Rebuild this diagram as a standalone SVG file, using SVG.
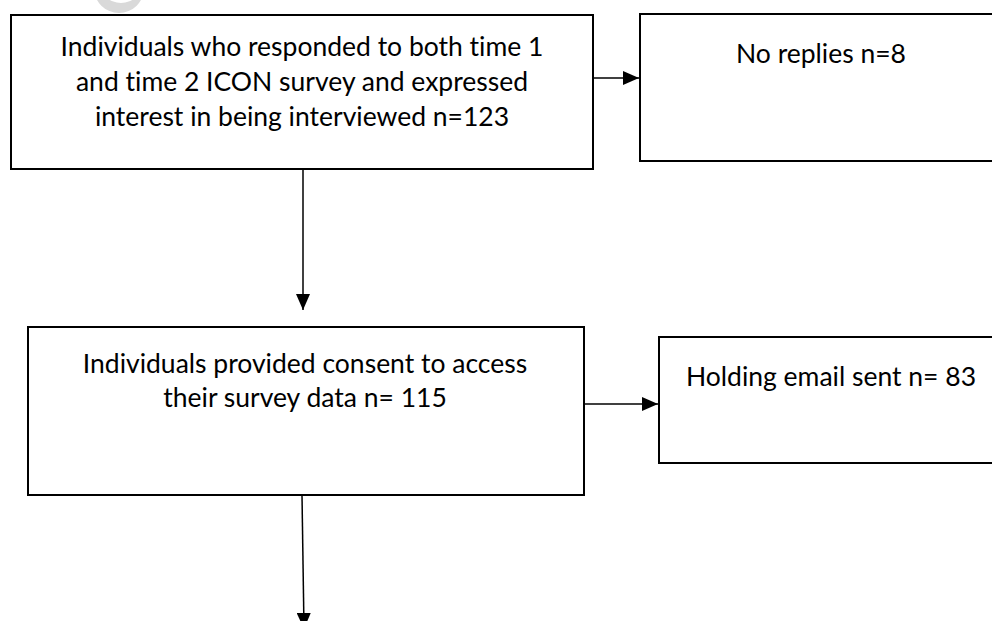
<svg xmlns="http://www.w3.org/2000/svg" width="992" height="621" viewBox="0 0 992 621">
<style>
.box{fill:#fff;stroke:#000;stroke-width:2}
.lbl{font-family:Lato,"Open Sans","Liberation Sans",sans-serif;font-size:26.5px;fill:#000;text-anchor:middle;font-variant-ligatures:none}
.con{stroke:#000;stroke-width:1.5;fill:none}
</style>
<defs>
<marker id="ah" markerUnits="userSpaceOnUse" markerWidth="16" markerHeight="14" refX="16" refY="7" orient="auto">
<path d="M0,0 L16,7 L0,14 Z" fill="#000"/>
</marker>
</defs>
<rect width="992" height="621" fill="#fff"/>
<path d="M94,-12 a25,25 0 1,0 50,0 a25,25 0 1,0 -50,0 Z M99,-19 a22,22 0 1,1 44,0 a22,22 0 1,1 -44,0 Z" fill="#d9d9d9" fill-rule="evenodd"/>
<g id="connectors">
<line class="con" x1="593" y1="78" x2="639" y2="78" marker-end="url(#ah)"/>
<line class="con" x1="303" y1="169" x2="303" y2="310" marker-end="url(#ah)"/>
<line class="con" x1="584" y1="404" x2="658" y2="404" marker-end="url(#ah)"/>
<line class="con" x1="302" y1="495" x2="304" y2="629" marker-end="url(#ah)"/>
</g>
<g id="node1">
<rect class="box" x="11" y="15" width="582" height="154"/>
<text class="lbl" x="302" y="56">Individuals who responded to both time 1</text>
<text class="lbl" x="302" y="91">and time 2 ICON survey and expressed</text>
<text class="lbl" x="302" y="126">interest in being interviewed n=123</text>
</g>
<g id="node2">
<rect class="box" x="640" y="14" width="362" height="147"/>
<text class="lbl" x="821" y="63">No replies n=8</text>
</g>
<g id="node3">
<rect class="box" x="28" y="327" width="556" height="168"/>
<text class="lbl" x="305" y="373">Individuals provided consent to access</text>
<text class="lbl" x="305" y="407">their survey data n= 115</text>
</g>
<g id="node4">
<rect class="box" x="659" y="337" width="344" height="126"/>
<text class="lbl" x="831" y="386">Holding email sent n= 83</text>
</g>
</svg>
